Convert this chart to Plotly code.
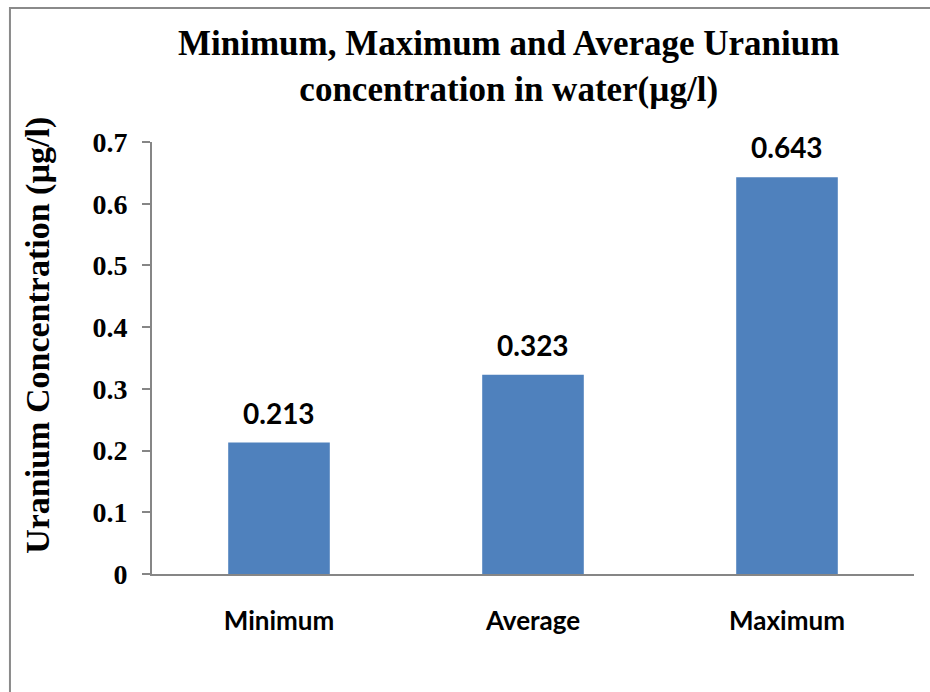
import plotly.graph_objects as go

# Uranium concentration in water (µg/l)
categories = ["Minimum", "Average", "Maximum"]
values = [0.213, 0.323, 0.643]
y_ticks = [0, 0.1, 0.2, 0.3, 0.4, 0.5, 0.6, 0.7]
y_tick_text = ["0", "0.1", "0.2", "0.3", "0.4", "0.5", "0.6", "0.7"]

BAR_COLOR = "#4F81BD"
AXIS_GRAY = "#868686"
SERIF = "Liberation Serif"
SANS = "Lato"

fig = go.Figure()
fig.add_trace(go.Bar(
    x=categories,
    y=values,
    width=0.4,
    marker=dict(color=BAR_COLOR, line=dict(width=0)),
    hoverinfo="x+y",
))

# value labels above each bar
for cat, val in zip(categories, values):
    fig.add_annotation(
        x=cat, y=val, xref="x", yref="y",
        text=f"{val:.3f}",
        showarrow=False,
        yanchor="middle",
        yshift=30,
        font=dict(family=SANS, size=28, color="#000000", weight="bold"),
    )

# chart title
fig.add_annotation(
    x=0.4672, y=1.278, xref="paper", yref="paper",
    text="<b>Minimum, Maximum and Average Uranium<br>concentration in water(µg/l)</b>",
    showarrow=False,
    xanchor="center", yanchor="top", align="center",
    font=dict(family=SERIF, size=35, color="#000000"),
)

# y-axis title
fig.add_annotation(
    x=-0.15, y=0.553, xref="paper", yref="paper",
    text="<b>Uranium Concentration (µg/l)</b>",
    textangle=-90,
    showarrow=False,
    xanchor="center", yanchor="middle",
    font=dict(family=SERIF, size=34, color="#000000"),
)

# outer chart frame
fig.add_shape(
    type="rect", xref="paper", yref="paper",
    x0=-0.1864, x1=1.1, y0=-0.4, y1=1.31,
    line=dict(color="#8a8a8a", width=2),
    fillcolor="rgba(0,0,0,0)",
    layer="below",
)

fig.update_layout(
    width=930, height=692,
    margin=dict(l=152, r=16, t=142, b=118, pad=0),
    paper_bgcolor="#ffffff",
    plot_bgcolor="#ffffff",
    showlegend=False,
    bargap=0.6,
    xaxis=dict(
        showline=True, linecolor=AXIS_GRAY, linewidth=2,
        ticks="", showgrid=False, zeroline=False,
        tickfont=dict(family=SANS, size=26, color="#000000", weight="bold"),
        ticklabelstandoff=23,
        fixedrange=True,
    ),
    yaxis=dict(
        range=[0, 0.7],
        tickvals=y_ticks, ticktext=y_tick_text,
        showline=True, linecolor=AXIS_GRAY, linewidth=2,
        ticks="outside", ticklen=8, tickcolor=AXIS_GRAY, tickwidth=2,
        showgrid=False, zeroline=False,
        tickfont=dict(family=SERIF, size=28, color="#000000", weight="bold"),
        ticklabelstandoff=9,
        fixedrange=True,
    ),
)

fig.write_html("out.html")
